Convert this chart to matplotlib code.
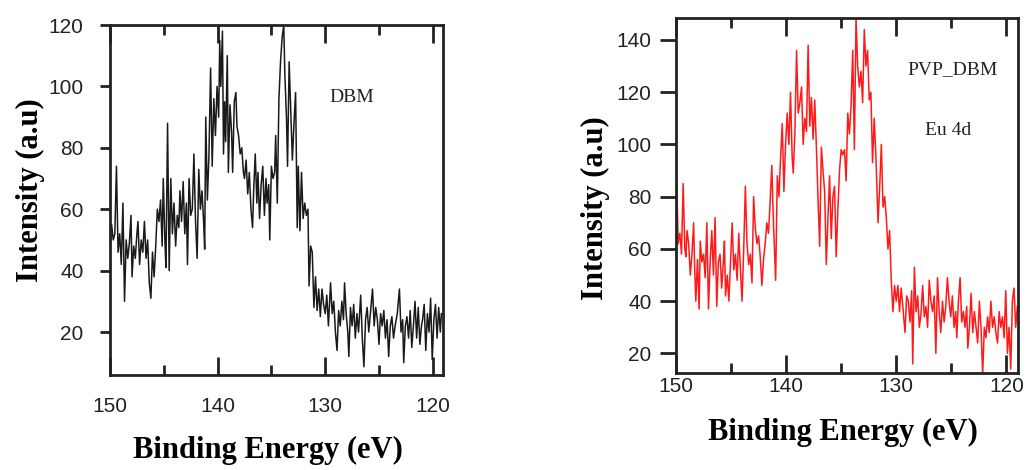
import matplotlib
matplotlib.use("Agg")
import matplotlib.pyplot as plt
from matplotlib.ticker import MultipleLocator

# ---------------- data ----------------
dbm_energy = [
    150.0, 149.85, 149.7, 149.55, 149.4, 149.25, 149.1, 148.95, 148.8, 148.65,
    148.5, 148.35, 148.2, 148.05, 147.95, 147.8, 147.65, 147.5, 147.4, 147.25,
    147.1, 146.95, 146.8, 146.65, 146.5, 146.35, 146.2, 146.05, 145.9, 145.75,
    145.6, 145.45, 145.3, 145.15, 145.05, 144.9, 144.8, 144.65, 144.5, 144.35,
    144.2, 144.05, 143.9, 143.75, 143.6, 143.5, 143.35, 143.2, 143.05, 142.9,
    142.8, 142.65, 142.5, 142.35, 142.2, 142.05, 141.9, 141.75, 141.6, 141.45,
    141.3, 141.2, 141.1, 140.95, 140.8, 140.65, 140.5, 140.35, 140.2, 140.05,
    139.9, 139.8, 139.7, 139.55, 139.45, 139.35, 139.25, 139.1, 139.0, 138.85,
    138.7, 138.6, 138.45, 138.3, 138.2, 138.05, 137.9, 137.75, 137.6, 137.5,
    137.35, 137.2, 137.05, 136.9, 136.75, 136.65, 136.5, 136.35, 136.25, 136.1,
    135.95, 135.8, 135.65, 135.5, 135.4, 135.25, 135.15, 135.0, 134.85, 134.7,
    134.6, 134.45, 134.3, 134.15, 134.0, 133.85, 133.75, 133.6, 133.5, 133.35,
    133.2, 133.05, 132.9, 132.75, 132.6, 132.5, 132.35, 132.2, 132.05, 131.9,
    131.75, 131.6, 131.5, 131.35, 131.2, 131.05, 130.9, 130.75, 130.6, 130.45,
    130.3, 130.15, 130.0, 129.85, 129.7, 129.5, 129.35, 129.2, 129.05, 128.9,
    128.75, 128.6, 128.45, 128.3, 128.2, 128.05, 127.9, 127.8, 127.65, 127.5,
    127.35, 127.2, 127.05, 126.9, 126.7, 126.55, 126.4, 126.25, 126.1, 125.95,
    125.8, 125.6, 125.45, 125.3, 125.15, 125.0, 124.85, 124.7, 124.55, 124.4,
    124.25, 124.1, 123.95, 123.8, 123.65, 123.5, 123.3, 123.1, 122.95, 122.8,
    122.7, 122.55, 122.4, 122.25, 122.1, 121.95, 121.8, 121.65, 121.5, 121.35,
    121.2, 121.05, 120.95, 120.8, 120.65, 120.5, 120.35, 120.2, 120.05, 119.9,
    119.75, 119.6, 119.45, 119.3, 119.2,
]
dbm_intensity = [
    47, 55, 50, 52, 74, 46, 52, 42, 62, 30,
    50, 44, 49, 58, 38, 48, 44, 52, 56, 42,
    50, 46, 56, 44, 50, 36, 31, 46, 38, 48,
    60, 56, 63, 48, 70, 50, 41, 88, 40, 70,
    52, 62, 48, 58, 54, 66, 56, 69, 52, 62,
    42, 70, 58, 60, 78, 56, 44, 73, 60, 66,
    56, 47, 90, 63, 78, 106, 74, 96, 84, 100,
    90, 115, 100, 118, 78, 95, 82, 110, 72, 94,
    85, 72, 95, 98, 87, 84, 78, 80, 72, 70,
    76, 65, 72, 60, 54, 66, 78, 62, 72, 57,
    68, 74, 58, 70, 62, 68, 50, 74, 70, 72,
    84, 62, 96, 108, 116, 120, 104, 90, 74, 108,
    92, 76, 88, 98, 54, 74, 53, 72, 57, 62,
    58, 60, 35, 48, 46, 28, 38, 27, 34, 25,
    34, 29, 26, 32, 22, 36, 26, 30, 20, 14,
    27, 22, 30, 24, 36, 26, 20, 12, 28, 22,
    29, 18, 26, 20, 32, 18, 8.7, 24, 28, 20,
    26, 34, 22, 28, 24, 16, 26, 22, 27, 18,
    24, 12, 22, 25, 18, 22, 26, 34, 20, 24,
    10, 22, 25, 18, 27, 15, 22, 30, 18, 28,
    16, 22, 24, 29, 14, 26, 20, 31, 11, 24,
    29, 18, 28, 20, 26,
]

pvp_energy = [
    150.0, 149.95, 149.8, 149.65, 149.5, 149.35, 149.2, 149.1, 149.0, 148.85,
    148.7, 148.55, 148.4, 148.3, 148.2, 148.05, 147.9, 147.8, 147.65, 147.5,
    147.35, 147.2, 147.05, 146.9, 146.75, 146.6, 146.45, 146.3, 146.15, 146.0,
    145.85, 145.7, 145.6, 145.5, 145.35, 145.2, 145.05, 144.9, 144.75, 144.6,
    144.45, 144.3, 144.15, 144.0, 143.85, 143.7, 143.55, 143.4, 143.25, 143.1,
    142.95, 142.8, 142.65, 142.5, 142.35, 142.2, 142.05, 141.9, 141.75, 141.6,
    141.45, 141.3, 141.15, 140.95, 140.8, 140.65, 140.5, 140.35, 140.2, 140.05,
    139.9, 139.75, 139.6, 139.45, 139.35, 139.2, 139.05, 138.9, 138.75, 138.6,
    138.45, 138.3, 138.15, 138.0, 137.85, 137.7, 137.55, 137.4, 137.25, 137.1,
    136.95, 136.8, 136.65, 136.5, 136.35, 136.2, 136.05, 135.9, 135.75, 135.6,
    135.45, 135.3, 135.15, 135.0, 134.85, 134.7, 134.55, 134.4, 134.25, 134.1,
    133.95, 133.8, 133.65, 133.5, 133.35, 133.2, 133.05, 132.9, 132.75, 132.6,
    132.45, 132.3, 132.15, 132.0, 131.85, 131.65, 131.5, 131.35, 131.2, 131.05,
    130.9, 130.75, 130.6, 130.45, 130.3, 130.15, 130.0, 129.85, 129.7, 129.55,
    129.4, 129.2, 129.05, 128.9, 128.75, 128.6, 128.5, 128.35, 128.2, 128.05,
    127.9, 127.75, 127.6, 127.45, 127.3, 127.15, 127.0, 126.85, 126.7, 126.55,
    126.4, 126.25, 126.1, 125.95, 125.8, 125.65, 125.5, 125.35, 125.2, 125.05,
    124.9, 124.75, 124.6, 124.5, 124.35, 124.2, 124.05, 123.9, 123.75, 123.6,
    123.5, 123.35, 123.2, 123.05, 122.9, 122.75, 122.6, 122.45, 122.3, 122.15,
    122.0, 121.85, 121.7, 121.55, 121.4, 121.25, 121.1, 120.95, 120.8, 120.65,
    120.5, 120.35, 120.2, 120.05, 119.9, 119.75, 119.6, 119.45, 119.3, 119.15,
    119.0,
]
pvp_intensity = [
    60, 88, 62, 66, 58, 85, 60, 57, 67, 62,
    50, 58, 70, 52, 40, 56, 37, 63, 55, 58,
    49, 70, 37, 55, 67, 50, 72, 38, 55, 58,
    45, 55, 63, 42, 50, 40, 55, 70, 52, 58,
    48, 66, 52, 40, 60, 84, 62, 54, 58, 47,
    80, 68, 62, 65, 57, 46, 56, 62, 70, 66,
    78, 92, 70, 48, 88, 80, 95, 108, 82, 100,
    112, 100, 120, 95, 89, 105, 136, 112, 116, 122,
    100, 110, 105, 138, 107, 118, 102, 117, 99, 79,
    61, 99, 90, 82, 54, 72, 88, 64, 80, 84,
    57, 75, 90, 98, 96, 98, 86, 112, 104, 115,
    136, 98, 148, 130, 122, 128, 116, 144, 130, 136,
    117, 120, 93, 110, 96, 70, 84, 100, 76, 80,
    72, 60, 67, 48, 36, 46, 40, 46, 36, 45,
    38, 28, 42, 40, 32, 44, 16, 53, 36, 42,
    30, 35, 46, 34, 38, 30, 48, 40, 36, 42,
    20, 49, 36, 28, 40, 32, 38, 49, 40, 34,
    42, 30, 36, 26, 40, 49, 32, 36, 30, 38,
    22, 30, 43, 28, 36, 30, 24, 40, 30, 12,
    30, 26, 34, 28, 40, 30, 34, 28, 24, 36,
    30, 34, 26, 44, 20, 30, 14, 40, 45, 30,
    38,
]

dbm_yticks = [20, 40, 60, 80, 100, 120]
pvp_yticks = [20, 40, 60, 80, 100, 120, 140]
x_ticks = [150, 140, 130, 120]

# ---------------- figure ----------------
W, H = 1031, 470
fig = plt.figure(figsize=(W / 100, H / 100), dpi=100)

tick_font = dict(family=["Liberation Sans Narrow", "Liberation Sans", "DejaVu Sans"], size=15)
label_font = dict(family=["Liberation Serif", "DejaVu Serif"], size=22, weight="bold")
note_font = dict(family=["Liberation Serif", "DejaVu Serif"], size=14)


def px_box(x0, y0, x1, y1):
    return [x0 / W, 1 - y1 / H, (x1 - x0) / W, (y1 - y0) / H]


def style_axes(ax, xlim, ylim, yticks, xpad, ypad, ylen):
    ax.set_xlim(*xlim)
    ax.set_ylim(*ylim)
    ax.set_xticks(x_ticks)
    ax.xaxis.set_minor_locator(MultipleLocator(5))
    ax.set_yticks(yticks)
    for s in ax.spines.values():
        s.set_linewidth(2.0)
        s.set_color("#222222")
    ax.tick_params(axis="x", which="major", direction="in", top=True, bottom=True,
                   length=13, width=2.0, pad=xpad, color="#222222")
    ax.tick_params(axis="x", which="minor", direction="in", top=True, bottom=True,
                   length=7, width=2.0, color="#222222")
    ax.tick_params(axis="y", which="major", direction="out", left=True, right=False,
                   length=ylen, width=2.0, pad=ypad, color="#222222")
    for lab in ax.get_xticklabels() + ax.get_yticklabels():
        lab.set_fontfamily(tick_font["family"])
        lab.set_fontsize(tick_font["size"])
        lab.set_color("#222222")


# left panel: DBM
ax1 = fig.add_axes(px_box(110, 25, 443, 375))
ax1.plot(dbm_energy, dbm_intensity, color="#1a1a1a", lw=1.1)
style_axes(ax1, (150, 119.05), (6, 120), dbm_yticks, xpad=16, ypad=12, ylen=7)
ax1.text(352 / W, 1 - 98 / H, "DBM", transform=fig.transFigure, ha="center", va="center",
         color="#222222", **note_font)

# right panel: PVP_DBM
ax2 = fig.add_axes(px_box(676, 18, 1018, 373))
ax2.plot(pvp_energy, pvp_intensity, color="#ff1a1a", lw=1.1)
style_axes(ax2, (150, 118.94), (12.5, 148.4), pvp_yticks, xpad=3, ypad=6, ylen=11.5)
fig.text(953 / W, 1 - 70 / H, "PVP_DBM", ha="center", va="center", color="#222222", **note_font)
fig.text(948 / W, 1 - 130 / H, "Eu 4d", ha="center", va="center", color="#222222", **note_font)

# axis labels
fig.text(268 / W, 1 - 450 / H, "Binding Energy (eV)", ha="center", va="center", **label_font)
fig.text(843 / W, 1 - 432 / H, "Binding Energy (eV)", ha="center", va="center", **label_font)
fig.text(30 / W, 1 - 190 / H, "Intensity (a.u)", ha="center", va="center", rotation=90, **label_font)
fig.text(595 / W, 1 - 208 / H, "Intensity (a.u)", ha="center", va="center", rotation=90, **label_font)

fig.savefig("out.png", dpi=100)
